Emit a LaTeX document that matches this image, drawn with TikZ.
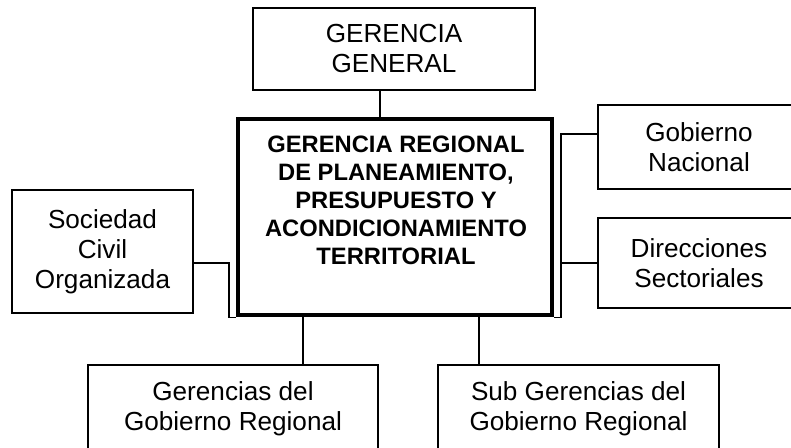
\documentclass[tikz,border=0pt]{standalone}
\usepackage{fontspec}
\setmainfont{Liberation Sans}
\usetikzlibrary{positioning}

\tikzset{
  orgbox/.style={draw, line width=1.2pt, inner sep=0pt, align=center,
    font=\fontsize{19.6}{22.5}\selectfont},
  mainbox/.style={draw, line width=3.6pt, inner sep=0pt,
    minimum width=314*0.75pt, minimum height=196*0.75pt},
  maintext/.style={align=center, inner sep=0pt,
    font=\fontsize{17.8}{21}\selectfont\bfseries},
  link/.style={line width=1.2pt}
}

\begin{document}
\begin{tikzpicture}[x=0.75pt,y=0.75pt,yscale=-1,xscale=1]
  \useasboundingbox (0,0) rectangle (791,447);
  \clip (0,0) rectangle (791,447);

  % Main box
  \node [mainbox] (cen) at (395,217) {};
  \node [maintext] (cent) at (396,200) {GERENCIA REGIONAL\\DE PLANEAMIENTO,\\PRESUPUESTO Y\\ACONDICIONAMIENTO\\TERRITORIAL};

  % Top box
  \node [orgbox, minimum width=282*0.75pt, minimum height=82*0.75pt] (gg) at (394,49) {GERENCIA\\GENERAL};

  % Left box
  \node [orgbox, minimum width=181*0.75pt, minimum height=123*0.75pt] (soc) at (102.5,251.5) {Sociedad\\Civil\\Organizada};

  % Right boxes
  \node [orgbox, minimum width=202*0.75pt, minimum height=84*0.75pt] (gn) at (699,147) {Gobierno\\Nacional};
  \node [orgbox, minimum width=202*0.75pt, minimum height=90*0.75pt] (ds) at (699,263) {Direcciones\\Sectoriales};

  % Bottom boxes
  \node [orgbox, minimum width=290*0.75pt, minimum height=88*0.75pt] (ger) at (233,409) {Gerencias del\\Gobierno Regional};
  \node [orgbox, minimum width=281*0.75pt, minimum height=88*0.75pt] (sub) at (578.5,409) {Sub Gerencias del\\Gobierno Regional};

  % Connection points
  \coordinate (tj) at (380,0);
  \coordinate (lj) at (229,263);
  \coordinate (rj) at (561,134);
  \coordinate (gj) at (303,0);
  \coordinate (sj) at (479,0);

  % Straight Lines
  \draw [link] (gg.south -| tj) -- (cen.north -| tj);
  \draw [link] (soc.east |- lj) -- (lj) -- (lj |- cen.south) -- (cen.south west);
  \draw [link] (gn.west |- rj) -- (rj) -- (rj |- cen.south) -- (cen.south east);
  \draw [link] (ds.west) -- (ds.west -| rj);
  \draw [link] (cen.south -| gj) -- (ger.north -| gj);
  \draw [link] (cen.south -| sj) -- (sub.north -| sj);
\end{tikzpicture}
\end{document}
